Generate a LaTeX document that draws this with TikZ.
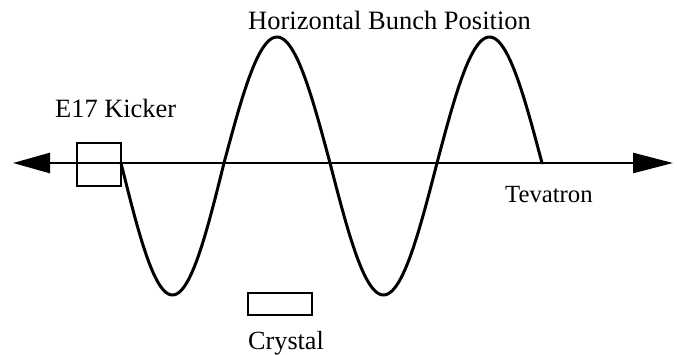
\documentclass[tikz,border=0pt]{standalone}
\usepackage{fontspec}
\setmainfont{Liberation Serif}
\usetikzlibrary{arrows.meta}
\begin{document}
\begin{tikzpicture}[x=1pt,y=-1pt,
  lbl/.style={inner sep=0pt, anchor=base west},
  boxst/.style={draw, line width=2.8pt, inner sep=0pt},
  wave/.style={line width=3pt, line join=round, line cap=round},
  axisst/.style={line width=2.6pt, {Triangle[length=37pt,width=20pt]}-{Triangle[length=40pt,width=20pt]}}]
\useasboundingbox (0,0) rectangle (677,354);
\coordinate (L) at (13,163);
\coordinate (R) at (673,163);
\draw[axisst] (L) -- (R);
\node[boxst, minimum width=44pt, minimum height=43pt] (kick) at (99,164.5) {};
\node[boxst, minimum width=64pt, minimum height=22pt] (crys) at (280,304) {};
\draw[wave] (kick.east |- L)
  plot[domain=121:224, samples=60] (\x,{163+132*sin((\x-121)/103*180)})
  -- plot[domain=224:330, samples=60] (\x,{163-126*sin((\x-224)/106*180)})
  -- plot[domain=330:437, samples=60] (\x,{163+132*sin((\x-330)/107*180)})
  -- plot[domain=437:542, samples=60] (\x,{163-126*sin((\x-437)/105*180)});
\node[lbl, font=\fontsize{26.4}{30}\selectfont] (kt) at (55,117) {E17 Kicker};
\node[lbl, font=\fontsize{26.5}{30}\selectfont] (ht) at (248,29) {Horizontal Bunch Position};
\node[lbl, font=\fontsize{24.7}{29}\selectfont] (tt) at (505,202) {Tevatron};
\node[lbl, font=\fontsize{26.2}{30}\selectfont] (ct) at (248,349) {Crystal};
\end{tikzpicture}
\end{document}
